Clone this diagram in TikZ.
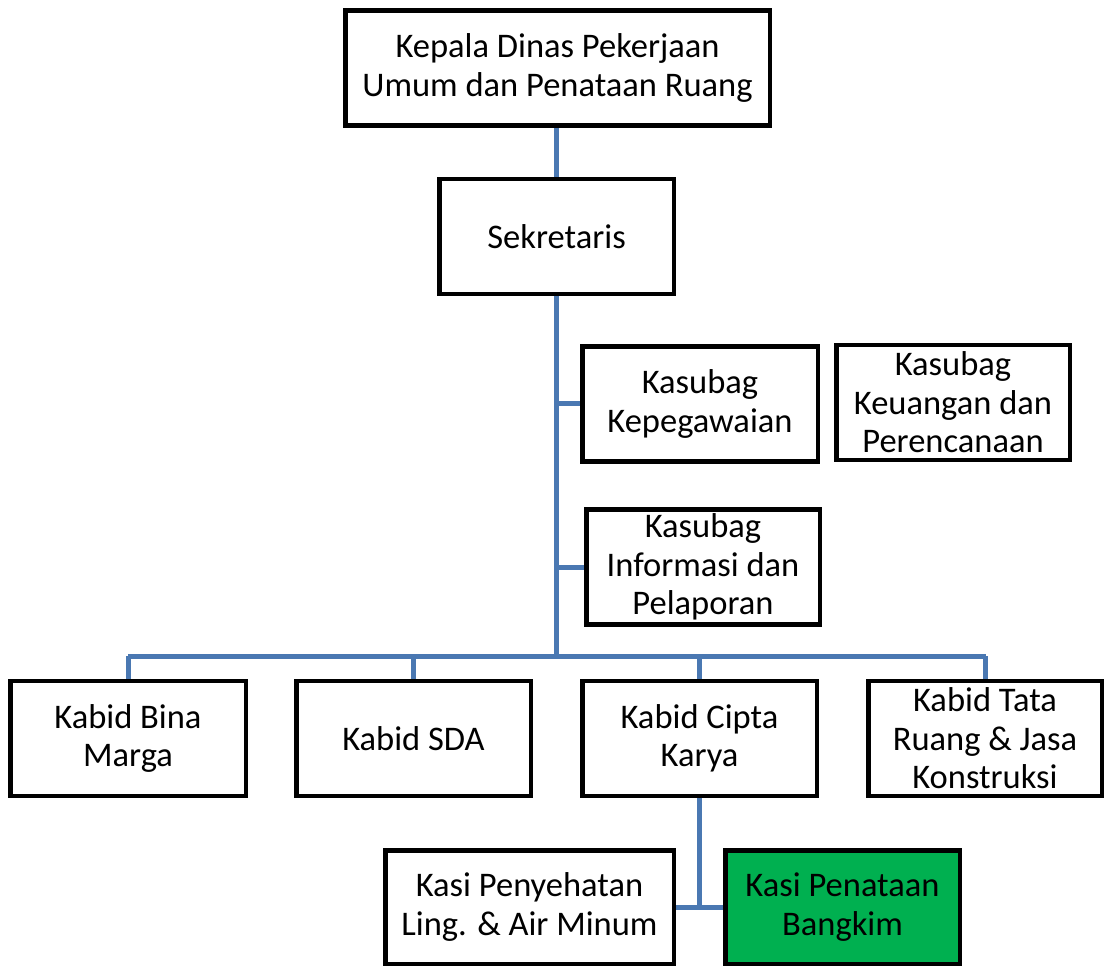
\documentclass[tikz,border=0pt]{standalone}
\usepackage{fontspec}
\setmainfont{Carlito}
\usetikzlibrary{backgrounds}
\definecolor{conn}{HTML}{4A78B2}
\definecolor{kgreen}{HTML}{00B050}
\tikzset{
  box/.style={draw=black, line width=4.5pt, fill=white, rectangle, align=center,
    inner sep=0pt, font=\fontsize{34.5}{38.5}\selectfont,
    minimum width=#1, minimum height=115pt},
  box/.default=234.5pt,
  link/.style={draw=conn, line width=5pt}
}
\begin{document}
\begin{tikzpicture}[x=1pt,y=-1pt]
\useasboundingbox (0,0) rectangle (1104,968);
\node[box=424.5pt] (kepala) at (557.5,68) {Kepala Dinas Pekerjaan\\Umum dan Penataan Ruang};
\node[box] (sekr) at (556.5,236.5) {Sekretaris};
\node[box=235.5pt] (kepeg) at (700,404) {Kasubag\\Kepegawaian};
\node[box=233.5pt] (keu) at (953,402.5) {Kasubag\\Keuangan dan\\Perencanaan};
\node[box=233.5pt] (info) at (703,567) {Kasubag\\Informasi dan\\Pelaporan};
\node[box=235.5pt] (bina) at (128,738.5) {Kabid Bina\\Marga};
\node[box] (sda) at (413.5,738.5) {Kabid SDA};
\node[box] (cipta) at (699.5,738.5) {Kabid Cipta\\Karya};
\node[box=233.5pt] (tata) at (985,738.5) {Kabid Tata\\Ruang \& Jasa\\Konstruksi};
\node[box=288.5pt, minimum height=113.5pt] (penyeh) at (529.5,907) {Kasi Penyehatan\\Ling. \& Air Minum};
\node[box, minimum height=113.5pt, fill=kgreen] (penat) at (842.5,907) {Kasi Penataan\\Bangkim};
\coordinate (busL) at (128,656);
\coordinate (busR) at (986,656);
\begin{scope}[on background layer]
\draw[link] (sekr.north |- kepala.south) -- (sekr.north);
\draw[link] (sekr.south) -- (sekr.south |- busL);
\draw[link] (busL) -- (busR);
\draw[link] (sekr.south |- kepeg.west) -- (kepeg.west);
\draw[link] (sekr.south |- info.west) -- (info.west);
\draw[link] (bina.north) -- (bina.north |- busL);
\draw[link] (sda.north) -- (sda.north |- busL);
\draw[link] (cipta.north) -- (cipta.north |- busL);
\draw[link] (tata.north) -- (tata.north |- busL);
\draw[link] (cipta.south) -- (cipta.south |- penyeh.east);
\draw[link] (penyeh.east) -- (penat.west);
\end{scope}
\end{tikzpicture}
\end{document}
